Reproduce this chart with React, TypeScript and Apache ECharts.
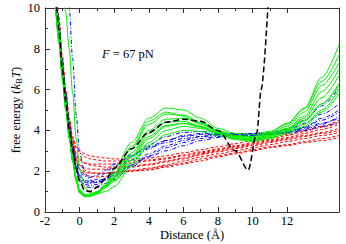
import React, { useEffect, useRef } from "react";
import * as echarts from "echarts";

const xs = [-1.4, -1.2, -1.0, -0.8, -0.6, -0.4, -0.2, 0, 0.3, 0.6, 1, 1.5, 2, 3, 4, 5, 6, 7, 8, 9, 10, 11, 12, 13, 14, 15];

const greenCurves: number[][] = [
  [11, 9, 7, 5.3, 3.8, 2.6, 1.6, 1.0, 0.8, 0.8, 0.95, 1.4, 2.1, 3.4, 4.6, 5.1, 5.0, 4.6, 4.1, 3.85, 3.8, 3.95, 4.35, 5.1, 6.6, 8.2],
  [10.5, 8.6, 6.7, 5.1, 3.7, 2.5, 1.55, 0.95, 0.76, 0.78, 0.9, 1.3, 1.9, 3.1, 4.3, 4.8, 4.75, 4.4, 4.0, 3.75, 3.7, 3.85, 4.2, 4.9, 6.2, 7.3],
  [10.8, 8.8, 6.9, 5.2, 3.75, 2.55, 1.6, 1.0, 0.78, 0.8, 0.92, 1.25, 1.75, 2.9, 4.0, 4.55, 4.6, 4.35, 3.95, 3.7, 3.65, 3.8, 4.1, 4.7, 5.9, 7.0],
  [10.2, 8.3, 6.5, 5.0, 3.6, 2.45, 1.5, 0.92, 0.75, 0.76, 0.88, 1.2, 1.65, 2.75, 3.85, 4.4, 4.45, 4.2, 3.85, 3.6, 3.55, 3.75, 4.05, 4.6, 5.6, 6.7],
  [11.2, 9.2, 7.2, 5.5, 4.0, 2.7, 1.7, 1.05, 0.82, 0.82, 0.95, 1.2, 1.55, 2.55, 3.6, 4.2, 4.35, 4.2, 3.9, 3.65, 3.6, 3.75, 4.1, 4.5, 5.3, 6.3],
  [10.6, 8.7, 6.8, 5.2, 3.8, 2.6, 1.65, 1.05, 0.85, 0.88, 1.0, 1.25, 1.5, 2.4, 3.4, 4.0, 4.2, 4.1, 3.85, 3.6, 3.5, 3.65, 3.95, 4.3, 5.0, 6.0],
  [14, 12.5, 11, 9.8, 8.0, 5.8, 3.6, 2.1, 1.2, 0.95, 0.9, 1.0, 1.25, 2.25, 3.25, 3.8, 4.0, 3.95, 3.75, 3.55, 3.45, 3.6, 3.85, 4.2, 4.9, 5.8],
  [10.3, 8.4, 6.6, 5.0, 3.6, 2.5, 1.55, 0.97, 0.78, 0.8, 0.92, 1.3, 1.85, 3.2, 4.45, 4.9, 4.7, 4.3, 3.95, 3.7, 3.7, 3.9, 4.3, 5.05, 6.4, 7.7],
  [10.9, 8.9, 7.0, 5.3, 3.85, 2.65, 1.7, 1.1, 0.85, 0.85, 0.98, 1.3, 1.7, 2.7, 3.7, 4.25, 4.35, 4.15, 3.85, 3.6, 3.55, 3.7, 4.0, 4.45, 5.3, 6.2],
];

const blueCurves: number[][] = [
  [10.8, 8.9, 7.0, 5.4, 4.0, 2.9, 2.1, 1.6, 1.35, 1.3, 1.35, 1.6, 1.95, 2.7, 3.3, 3.7, 3.9, 3.95, 3.9, 3.85, 3.85, 3.9, 4.05, 4.5, 5.2, 6.1],
  [10.5, 8.7, 6.9, 5.4, 4.0, 3.0, 2.2, 1.7, 1.45, 1.4, 1.45, 1.65, 1.9, 2.55, 3.1, 3.5, 3.75, 3.85, 3.85, 3.8, 3.8, 3.85, 4.0, 4.35, 4.8, 5.3],
  [11, 9.1, 7.2, 5.6, 4.2, 3.1, 2.3, 1.8, 1.55, 1.5, 1.6, 1.9, 2.25, 2.75, 3.2, 3.5, 3.7, 3.8, 3.8, 3.8, 3.75, 3.8, 3.9, 4.15, 4.5, 4.9],
  [10.2, 8.4, 6.7, 5.2, 3.9, 2.9, 2.1, 1.55, 1.25, 1.2, 1.25, 1.4, 1.6, 2.2, 2.75, 3.15, 3.4, 3.6, 3.7, 3.75, 3.8, 3.8, 3.9, 4.1, 4.35, 4.6],
  [11.5, 9.5, 7.5, 5.8, 4.4, 3.3, 2.45, 2.0, 1.75, 1.7, 1.8, 2.05, 2.35, 2.8, 3.15, 3.4, 3.6, 3.7, 3.75, 3.75, 3.75, 3.8, 3.85, 4.0, 4.2, 4.4],
  [15, 13.5, 12, 11, 10, 7.5, 4.8, 2.9, 1.9, 1.55, 1.45, 1.55, 1.75, 2.3, 2.85, 3.25, 3.5, 3.7, 3.8, 3.85, 3.85, 3.85, 3.95, 4.15, 4.6, 5.0],
  [10.7, 8.8, 7.0, 5.5, 4.1, 3.0, 2.2, 1.75, 1.5, 1.45, 1.5, 1.65, 1.8, 2.3, 2.7, 3.0, 3.25, 3.5, 3.65, 3.75, 3.8, 3.8, 3.9, 4.05, 4.3, 4.7],
];

const redCurves: number[][] = [
  [10.8, 9.0, 7.2, 5.7, 4.4, 3.6, 3.15, 2.9, 2.7, 2.6, 2.55, 2.5, 2.5, 2.5, 2.55, 2.65, 2.8, 2.95, 3.1, 3.25, 3.4, 3.55, 3.75, 3.95, 4.15, 4.4],
  [10.5, 8.7, 7.0, 5.5, 4.2, 3.3, 2.8, 2.55, 2.4, 2.35, 2.35, 2.35, 2.35, 2.4, 2.5, 2.6, 2.75, 2.9, 3.05, 3.2, 3.35, 3.5, 3.65, 3.85, 4.05, 4.3],
  [11, 9.2, 7.4, 5.9, 4.5, 3.5, 2.9, 2.6, 2.4, 2.3, 2.25, 2.2, 2.2, 2.25, 2.35, 2.5, 2.65, 2.85, 3.0, 3.15, 3.3, 3.45, 3.6, 3.75, 3.9, 4.1],
  [10.3, 8.5, 6.8, 5.3, 4.0, 3.1, 2.55, 2.3, 2.15, 2.1, 2.1, 2.1, 2.1, 2.2, 2.3, 2.45, 2.6, 2.8, 2.95, 3.1, 3.25, 3.4, 3.55, 3.7, 3.85, 4.0],
  [11.2, 9.3, 7.5, 5.9, 4.5, 3.4, 2.7, 2.3, 2.05, 1.95, 1.9, 1.9, 1.95, 2.05, 2.15, 2.3, 2.5, 2.7, 2.85, 3.0, 3.15, 3.3, 3.45, 3.6, 3.75, 3.9],
  [10.6, 8.8, 7.1, 5.6, 4.3, 3.3, 2.6, 2.1, 1.85, 1.75, 1.72, 1.75, 1.85, 2.0, 2.1, 2.25, 2.4, 2.6, 2.75, 2.9, 3.05, 3.2, 3.3, 3.45, 3.6, 3.75],
  [11.5, 9.6, 7.7, 6.0, 4.6, 3.7, 3.2, 3.0, 2.85, 2.75, 2.7, 2.65, 2.6, 2.6, 2.65, 2.75, 2.9, 3.05, 3.2, 3.35, 3.5, 3.65, 3.8, 4.0, 4.2, 4.5],
  [10.9, 9.0, 7.2, 5.6, 4.3, 3.2, 2.5, 2.1, 1.95, 1.9, 1.9, 1.9, 1.95, 2.0, 2.05, 2.2, 2.35, 2.5, 2.7, 2.85, 3.0, 3.15, 3.25, 3.4, 3.5, 3.65],
];

const blackX = [-1.35, -1.2, -1.0, -0.8, -0.6, -0.4, -0.2, 0, 0.3, 0.6, 1, 1.5, 2, 3, 4, 5, 6, 7, 8, 9, 9.75, 10.25, 10.5, 10.9];
const blackY = [10.5, 9.0, 7.0, 5.4, 4.0, 3.0, 2.1, 1.5, 1.05, 1.0, 1.2, 1.6, 2.15, 3.1, 3.9, 4.4, 4.55, 4.45, 4.0, 3.0, 2.06, 3.9, 6.0, 10.2];

const majorXTicks = [-2, 0, 2, 4, 6, 8, 10, 12];
const minorXTicks = [-1, 1, 3, 5, 7, 9, 11];
const xLabelValues = [-2, 0, 2, 4, 6, 8, 10, 12];

const FONT = "'Times New Roman', 'Liberation Serif', serif";
const FS = 12.5;

export default function App() {
  const ref = useRef<HTMLDivElement>(null);
  useEffect(() => {
    if (!ref.current) return;
    const chart = echarts.init(ref.current, undefined, { renderer: "svg" });
    const axisCommon = {
      type: "value" as const,
      min: -2,
      max: 15,
      interval: 1,
      splitLine: { show: false },
    };
    const mkSeries = (curves: number[][], color: string, type: any, width: number, name: string) =>
      curves.map((c, i) => ({
        name: name + i,
        type: "line",
        data: c.map((y, j) => [xs[j], y]),
        showSymbol: false,
        symbol: "none",
        smooth: 0.3,
        smoothMonotone: "x",
        clip: true,
        lineStyle: { color, width, type },
        z: 2,
      }));
    const series: any[] = [
      ...mkSeries(redCurves, "#ff0000", [3, 2], 1, "r"),
      ...mkSeries(blueCurves, "#0000ff", [4, 2, 1, 2], 1, "b"),
      ...mkSeries(greenCurves, "#00ee00", "solid", 1, "g"),
      {
        name: "black",
        type: "line",
        data: blackX.map((x, j) => [x, blackY[j]]),
        showSymbol: false,
        symbol: "none",
        smooth: 0.3,
        smoothMonotone: "x",
        clip: true,
        lineStyle: { color: "#000", width: 1.5, type: [6, 3] },
        z: 3,
      },
    ];
    const lineCol = "#333";
    chart.setOption({
      animation: false,
      grid: { left: 45, right: 7, top: 8, bottom: 32, show: false, containLabel: false, outerBoundsMode: "none" },
      xAxis: [
        {
          ...axisCommon,
          position: "bottom",
          axisLine: { show: true, onZero: false, lineStyle: { color: lineCol, width: 1 } },
          axisTick: { show: true, inside: true, length: 5, customValues: majorXTicks, lineStyle: { color: lineCol } },
          axisLabel: { show: true, customValues: xLabelValues, color: "#000", fontFamily: FONT, fontSize: FS, margin: 2 },
          name: "Distance (Å)",
          nameLocation: "middle",
          nameGap: 16,
          nameMoveOverlap: false,
          nameTextStyle: { color: "#000", fontFamily: FONT, fontSize: FS, verticalAlign: "top" },
        },
        {
          ...axisCommon,
          position: "bottom",
          axisLine: { show: false, onZero: false },
          axisTick: { show: true, inside: true, length: 3, customValues: minorXTicks, lineStyle: { color: lineCol } },
          axisLabel: { show: false },
        },
        {
          ...axisCommon,
          position: "top",
          axisLine: { show: true, onZero: false, lineStyle: { color: lineCol, width: 1 } },
          axisTick: { show: true, inside: true, length: 5, customValues: majorXTicks, lineStyle: { color: lineCol } },
          axisLabel: { show: false },
        },
        {
          ...axisCommon,
          position: "top",
          axisLine: { show: false, onZero: false },
          axisTick: { show: true, inside: true, length: 3, customValues: minorXTicks, lineStyle: { color: lineCol } },
          axisLabel: { show: false },
        },
      ],
      yAxis: [
        {
          type: "value",
          min: 0,
          max: 10,
          interval: 2,
          position: "left",
          splitLine: { show: false },
          axisLine: { show: true, onZero: false, lineStyle: { color: lineCol, width: 1 } },
          axisTick: { show: true, inside: true, length: 5, lineStyle: { color: lineCol } },
          minorTick: { show: true, splitNumber: 2, length: 3, lineStyle: { color: lineCol } },
          axisLabel: { color: "#000", fontFamily: FONT, fontSize: FS, margin: 5 },
          name: "free energy ({i|k}{sub|B}{i|T})",
          nameLocation: "middle",
          nameGap: 22,
          nameRotate: 90,
          nameMoveOverlap: false,
          nameTextStyle: {
            color: "#000",
            fontFamily: FONT,
            fontSize: FS,
            rich: {
              i: { fontStyle: "italic", fontFamily: FONT, fontSize: FS, color: "#000" },
              sub: { fontFamily: FONT, fontSize: 9, color: "#000", verticalAlign: "bottom", padding: [6, 0, 0, 0] },
            },
          },
        },
        {
          type: "value",
          min: 0,
          max: 10,
          interval: 2,
          position: "right",
          splitLine: { show: false },
          axisLine: { show: true, onZero: false, lineStyle: { color: lineCol, width: 1 } },
          axisTick: { show: false },
          axisLabel: { show: false },
        },
      ],
      graphic: [
        {
          type: "text",
          left: 102,
          top: 47,
          style: {
            text: "{i|F} = 67 pN",
            fill: "#000",
            font: `${FS}px ${FONT}`,
            rich: {
              i: { fontStyle: "italic", fontFamily: FONT, fontSize: FS, fill: "#000" },
            },
          },
        },
      ],
      series,
    });
    return () => chart.dispose();
  }, []);
  return <div ref={ref} style={{ width: 346, height: 244, position: "absolute", left: 0, top: 0 }} />;
}
